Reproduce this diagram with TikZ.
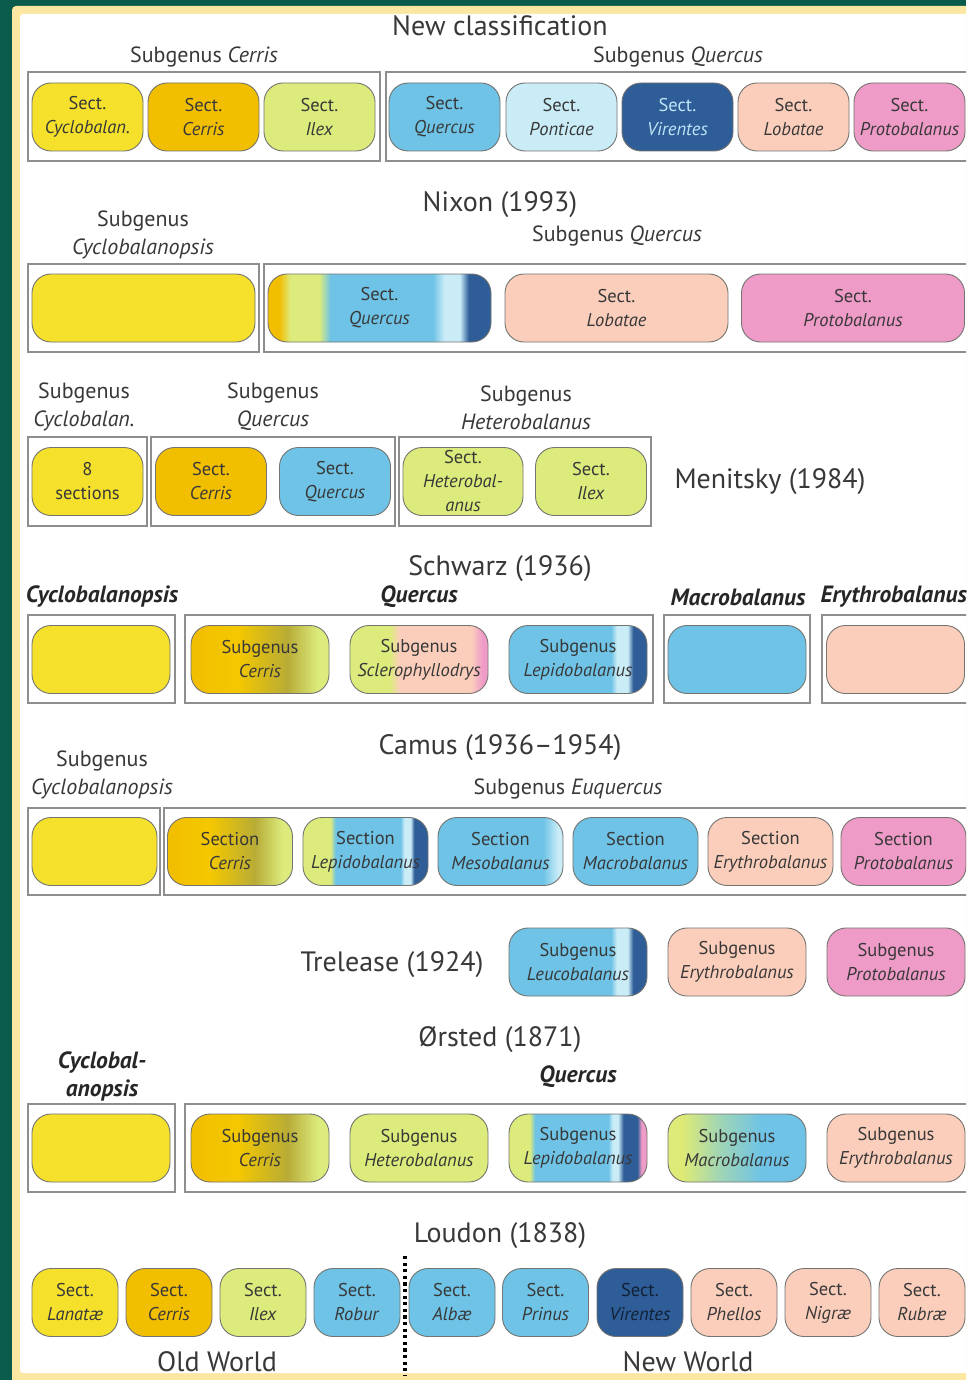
\documentclass[tikz,border=0pt]{standalone}
\usepackage{fontspec}
\setmainfont{PT Sans}
\usetikzlibrary{positioning}

\definecolor{framegreen}{HTML}{0B5B4D}
\definecolor{frameyellow}{HTML}{FCE7A2}
\definecolor{txt}{HTML}{383838}
\definecolor{pillline}{HTML}{747470}
\definecolor{grpline}{HTML}{8E8E8E}
\definecolor{cyc}{HTML}{F5E12C}
\definecolor{cer}{HTML}{F2BE00}
\definecolor{ilx}{HTML}{DCEB7C}
\definecolor{que}{HTML}{6EC3E6}
\definecolor{pon}{HTML}{C9ECF7}
\definecolor{vir}{HTML}{2F5D98}
\definecolor{lob}{HTML}{FBCEBC}
\definecolor{pro}{HTML}{EF9BC8}
\definecolor{virtext}{HTML}{BDE4F7}

% mixed sections, left to right
\pgfdeclarehorizontalshading{nixonq}{100bp}{color(0bp)=(cer); color(25bp)=(cer); color(27.5bp)=(cer); color(30bp)=(ilx); color(36.5bp)=(ilx); color(39bp)=(que); color(62bp)=(que); color(64.5bp)=(pon); color(68bp)=(pon); color(70bp)=(vir); color(100bp)=(vir)}
\pgfdeclarehorizontalshading{cerrisgrad}{100bp}{color(0bp)=(cer); color(25bp)=(cer); color(42bp)=(cer!85!yellow); color(60bp)=(cer!45!ilx!80!black); color(71bp)=(ilx); color(100bp)=(ilx)}
\pgfdeclarehorizontalshading{sclero}{100bp}{color(0bp)=(ilx); color(25bp)=(ilx); color(39.5bp)=(ilx); color(43bp)=(lob); color(69bp)=(lob); color(73bp)=(pro); color(100bp)=(pro)}
\pgfdeclarehorizontalshading{lepido}{100bp}{color(0bp)=(que); color(25bp)=(que); color(62bp)=(que); color(64bp)=(pon); color(68bp)=(pon); color(70bp)=(vir); color(100bp)=(vir)}
\pgfdeclarehorizontalshading{camlep}{100bp}{color(0bp)=(ilx); color(25bp)=(ilx); color(36bp)=(ilx); color(38bp)=(que); color(64bp)=(que); color(65.5bp)=(pon); color(68bp)=(pon); color(69.5bp)=(vir); color(100bp)=(vir)}
\pgfdeclarehorizontalshading{meso}{100bp}{color(0bp)=(que); color(25bp)=(que); color(67bp)=(que); color(73bp)=(pon); color(100bp)=(pon)}
\pgfdeclarehorizontalshading{orslep}{100bp}{color(0bp)=(ilx); color(25bp)=(ilx); color(32.5bp)=(ilx); color(34.5bp)=(que); color(61bp)=(que); color(62.5bp)=(pon); color(64.5bp)=(pon); color(66.5bp)=(vir); color(71.5bp)=(vir); color(73bp)=(pro); color(100bp)=(pro)}
\pgfdeclarehorizontalshading{orsmac}{100bp}{color(0bp)=(ilx); color(25bp)=(ilx); color(30bp)=(ilx!90!cyc); color(44bp)=(ilx!45!que); color(59bp)=(que); color(100bp)=(que)}

\newcommand{\pilltext}{\fontsize{18.5}{24}\selectfont}
\newcommand{\titletext}{\fontsize{28}{30}\selectfont}
\newcommand{\labeltext}{\fontsize{22}{28}\selectfont}
\newcommand{\genustext}{\fontsize{23.5}{28}\selectfont}

\begin{document}
\begin{tikzpicture}[x=1pt, y=-1pt,
  pill/.style={draw=pillline, line width=0.9pt, rounded corners=19pt,
    minimum height=68pt, inner sep=0pt, align=center, font=\pilltext, text=txt},
  w86/.style={pill, minimum width=86pt},
  w111/.style={pill, minimum width=111pt},
  w120/.style={pill, minimum width=120pt},
  w125/.style={pill, minimum width=125pt},
  w138/.style={pill, minimum width=138pt},
  w223/.style={pill, minimum width=223pt},
  grp/.style={draw=grpline, line width=1.4pt},
  title/.style={font=\titletext, text=txt},
  sublabel/.style={font=\labeltext, text=txt, align=center},
  genus/.style={font=\genustext\bfseries\itshape, text=black!85, align=center},
  divider/.style={line width=3.4pt, dash pattern=on 3.2pt off 3.4pt}]

  \useasboundingbox (0,0) rectangle (966,1380);
  \clip (0,0) rectangle (966,1380);
  \fill[framegreen] (0,0) rectangle (966,1380);
  \fill[frameyellow, rounded corners=4pt] (12,6) rectangle (1000,1400);
  \fill[white, rounded corners=3pt] (20,14) rectangle (1000,1373);

  % New classification
  \node[title] (t-new) at (500,26) {New classification};
  \node[sublabel] (l-nc-cer) at (204,57) {Subgenus \textit{Cerris}};
  \node[sublabel] (l-nc-que) at (678,57) {Subgenus \textit{Quercus}};
  \draw[grp] (28,72) rectangle (380,161);
  \draw[grp] (386,72) rectangle (1000,161);
  \node[w111, fill=cyc] (nc-cyc) at (87.5,117) {Sect.\\\textit{Cyclobalan.}};
  \node[w111, fill=cer] (nc-cer) at (203.5,117) {Sect.\\\textit{Cerris}};
  \node[w111, fill=ilx] (nc-ilex) at (319.5,117) {Sect.\\\textit{Ilex}};
  \node[w111, fill=que] (nc-que) at (444.5,117) {Sect.\\\textit{Quercus}};
  \node[w111, fill=pon] (nc-pon) at (561.5,117) {Sect.\\\textit{Ponticae}};
  \node[w111, fill=vir, text=virtext] (nc-vir) at (677.5,117) {Sect.\\\textit{Virentes}};
  \node[w111, fill=lob] (nc-lob) at (793.5,117) {Sect.\\\textit{Lobatae}};
  \node[w111, fill=pro] (nc-pro) at (909.5,117) {Sect.\\\textit{Protobalanus}};

  % Nixon
  \node[title] (t-nix) at (500,205) {Nixon (1993)};
  \node[sublabel] (l-nix-cyc) at (143,235) {Subgenus\\\textit{Cyclobalanopsis}};
  \node[sublabel] (l-nix-que) at (617,236) {Subgenus \textit{Quercus}};
  \draw[grp] (28,264) rectangle (259,352);
  \draw[grp] (264,264) rectangle (1000,352);
  \node[w223, fill=cyc] (nix-cyc) at (143.5,308) {};
  \node[w223, shade, shading=nixonq] (nix-que) at (379.5,308) {Sect.\\\textit{Quercus}};
  \node[w223, fill=lob] (nix-lob) at (616.5,308) {Sect.\\\textit{Lobatae}};
  \node[w223, fill=pro] (nix-pro) at (853,308) {Sect.\\\textit{Protobalanus}};

  % Menitsky
  \node[sublabel] (l-men-cyc) at (84,407) {Subgenus\\\textit{Cyclobalan.}};
  \node[sublabel] (l-men-que) at (273,407) {Subgenus\\\textit{Quercus}};
  \node[sublabel] (l-men-het) at (526,408) {Subgenus\\\textit{Heterobalanus}};
  \draw[grp] (28,437) rectangle (147,526);
  \draw[grp] (151,437) rectangle (395,526);
  \draw[grp] (399,437) rectangle (651,526);
  \node[w111, fill=cyc] (men-8) at (87.5,481.5) {8\\sections};
  \node[w111, fill=cer] (men-cer) at (211,481.5) {Sect.\\\textit{Cerris}};
  \node[w111, fill=que] (men-que) at (335,481.5) {Sect.\\\textit{Quercus}};
  \node[w120, fill=ilx] (men-het) at (463,481.5) {Sect.\\\textit{Heterobal-}\\\textit{anus}};
  \node[w111, fill=ilx] (men-ilex) at (591,481.5) {Sect.\\\textit{Ilex}};
  \node[title] (t-men) at (770,482) {Menitsky (1984)};

  % Schwarz
  \node[title] (t-sch) at (500,569) {Schwarz (1936)};
  \node[genus] (g-sch-cyc) at (102,597) {Cyclobalanopsis};
  \node[genus] (g-sch-que) at (419,597) {Quercus};
  \node[genus] (g-sch-mac) at (738,597) {Macrobalanus};
  \node[genus, anchor=west] (g-sch-ery) at (817,597) {Erythrobalanus};
  \draw[grp] (28,615) rectangle (175,703);
  \draw[grp] (185,615) rectangle (653,703);
  \draw[grp] (664,615) rectangle (810,703);
  \draw[grp] (822,615) rectangle (1000,703);
  \node[w138, fill=cyc] (sch-cyc) at (101,659.5) {};
  \node[w138, shade, shading=cerrisgrad] (sch-cer) at (260,659.5) {Subgenus\\\textit{Cerris}};
  \node[w138, shade, shading=sclero] (sch-scl) at (419,659.5) {Subgenus\\\textit{Sclerophyllodrys}};
  \node[w138, shade, shading=lepido] (sch-lep) at (578,659.5) {Subgenus\\\textit{Lepidobalanus}};
  \node[w138, fill=que] (sch-mac) at (737,659.5) {};
  \node[w138, fill=lob] (sch-ery) at (895.5,659.5) {};

  % Camus
  \node[title] (t-cam) at (500,748) {Camus (1936--1954)};
  \node[sublabel] (l-cam-cyc) at (102,775) {Subgenus\\\textit{Cyclobalanopsis}};
  \node[sublabel] (l-cam-euq) at (568,789) {Subgenus \textit{Euquercus}};
  \draw[grp] (28,808) rectangle (160,895);
  \draw[grp] (164,808) rectangle (1000,895);
  \node[w125, fill=cyc] (cam-cyc) at (94.5,851.5) {};
  \node[w125, shade, shading=cerrisgrad] (cam-cer) at (230,851.5) {Section\\\textit{Cerris}};
  \node[w125, shade, shading=camlep] (cam-lep) at (365.5,851.5) {Section\\\textit{Lepidobalanus}};
  \node[w125, shade, shading=meso] (cam-mes) at (500.5,851.5) {Section\\\textit{Mesobalanus}};
  \node[w125, fill=que] (cam-mac) at (635.5,851.5) {Section\\\textit{Macrobalanus}};
  \node[w125, fill=lob] (cam-ery) at (770.5,851.5) {Section\\\textit{Erythrobalanus}};
  \node[w125, fill=pro] (cam-pro) at (903.5,851.5) {Section\\\textit{Protobalanus}};

  % Trelease
  \node[title] (t-tre) at (392,965) {Trelease (1924)};
  \node[w138, shade, shading=lepido] (tre-leu) at (578,962) {Subgenus\\\textit{Leucobalanus}};
  \node[w138, fill=lob] (tre-ery) at (737,962) {Subgenus\\\textit{Erythrobalanus}};
  \node[w138, fill=pro] (tre-pro) at (896,962) {Subgenus\\\textit{Protobalanus}};

  % Orsted
  \node[title] (t-ors) at (500,1040) {Ørsted (1871)};
  \node[genus] (g-ors-cyc) at (102,1076) {Cyclobal-\\anopsis};
  \node[genus] (g-ors-que) at (578,1077) {Quercus};
  \draw[grp] (28,1104) rectangle (175,1192);
  \draw[grp] (185,1104) rectangle (1000,1192);
  \node[w138, fill=cyc] (ors-cyc) at (101,1148) {};
  \node[w138, shade, shading=cerrisgrad] (ors-cer) at (260,1148) {Subgenus\\\textit{Cerris}};
  \node[w138, fill=ilx] (ors-het) at (419,1148) {Subgenus\\\textit{Heterobalanus}};
  \node[w138, shade, shading=orslep] (ors-lep) at (578,1148) {Subgenus\\\textit{Lepidobalanus}};
  \node[w138, shade, shading=orsmac] (ors-mac) at (737,1148) {Subgenus\\\textit{Macrobalanus}};
  \node[w138, fill=lob] (ors-ery) at (896,1148) {Subgenus\\\textit{Erythrobalanus}};

  % Loudon
  \node[title] (t-lou) at (500,1236) {Loudon (1838)};
  \node[w86, fill=cyc] (lou-lan) at (75,1302.5) {Sect.\\\textit{Lanatæ}};
  \node[w86, fill=cer] (lou-cer) at (169,1302.5) {Sect.\\\textit{Cerris}};
  \node[w86, fill=ilx] (lou-ilex) at (263,1302.5) {Sect.\\\textit{Ilex}};
  \node[w86, fill=que] (lou-rob) at (357,1302.5) {Sect.\\\textit{Robur}};
  \node[w86, fill=que] (lou-alb) at (452,1302.5) {Sect.\\\textit{Albæ}};
  \node[w86, fill=que] (lou-pri) at (545.5,1302.5) {Sect.\\\textit{Prinus}};
  \node[w86, fill=vir, text=vir!35!black] (lou-vir) at (640,1302.5) {Sect.\\\textit{Virentes}};
  \node[w86, fill=lob] (lou-phe) at (734,1302.5) {Sect.\\\textit{Phellos}};
  \node[w86, fill=lob] (lou-nig) at (828,1302.5) {Sect.\\\textit{Nigræ}};
  \node[w86, fill=lob] (lou-rub) at (922,1302.5) {Sect.\\\textit{Rubræ}};
  \coordinate (div-top) at (405,1256);
  \coordinate (div-bot) at (405,1376);
  \draw[divider] (div-top) -- (div-bot);
  \node[title] (w-old) at (217,1362) {Old World};
  \node[title] (w-new) at (688,1362) {New World};
\end{tikzpicture}
\end{document}
